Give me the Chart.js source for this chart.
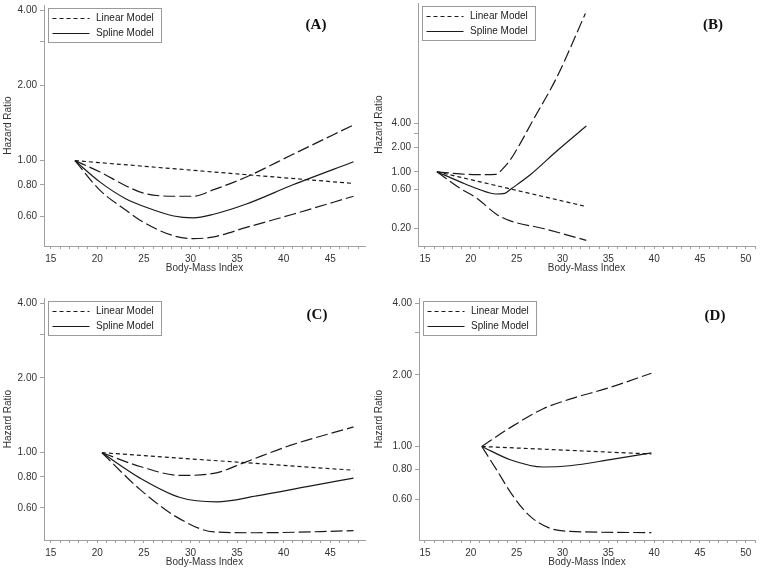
<!DOCTYPE html>
<html>
<head>
<meta charset="utf-8">
<script src="https://cdn.jsdelivr.net/npm/chart.js@4.4.1/dist/chart.umd.min.js"></script>
<style>
  body { margin: 0; background: #fff; }
  #wrap { position: relative; width: 760px; height: 570px; }
  canvas { position: absolute; }
</style>
</head>
<body>
<div id="wrap">
  <canvas id="panelA" width="380" height="285" style="left:0;top:0"></canvas>
  <canvas id="panelB" width="388" height="285" style="left:372px;top:0"></canvas>
  <canvas id="panelC" width="380" height="285" style="left:0;top:285px"></canvas>
  <canvas id="panelD" width="388" height="285" style="left:372px;top:285px"></canvas>
</div>
<script>
// tick labels
const yTicksMain = [0.6, 0.8, 1, 2, 3, 4];
const yLabelsMain = ['0.60', '0.80', '1.00', '2.00', '', '4.00'];
const yTicksB = [0.2, 0.6, 1, 2, 3, 4];
const yLabelsB = ['0.20', '0.60', '1.00', '2.00', '', '4.00'];

// (A)
const bmiA = [17.6, 20.3, 23.15, 25.0, 28.2, 30.3, 32.5, 36.0, 41.0, 47.5];
const splineA = [1.00, 0.82, 0.70, 0.655, 0.60, 0.59, 0.61, 0.67, 0.80, 0.99];
const upperA = [1.00, 0.90, 0.79, 0.74, 0.72, 0.72, 0.765, 0.86, 1.06, 1.39];
const lowerA = [1.00, 0.76, 0.63, 0.565, 0.50, 0.487, 0.495, 0.54, 0.61, 0.72];
const linBmiA = [17.6, 47.5];
const linearA = [1.00, 0.81];

// (B)
const bmiB = [16.3, 18.85, 20.65, 22.75, 23.7, 24.45, 26.45, 29.5, 32.6];
const splineB = [1.00, 0.75, 0.62, 0.53, 0.54, 0.62, 0.91, 1.86, 3.70];
const upBmiB = [16.3, 18.85, 20.65, 22.75, 23.35, 24.3, 25.4, 26.6, 29.4, 32.5];
const upperB = [1.00, 0.94, 0.92, 0.93, 1.05, 1.40, 2.25, 4.00, 15.0, 92.0];
const lowBmiB = [16.3, 18.85, 20.65, 22.75, 24.3, 27.9, 32.6];
const lowerB = [1.00, 0.62, 0.47, 0.30, 0.246, 0.198, 0.141];
const linBmiB = [16.3, 32.6];
const linearB = [1.00, 0.37];

// (C)
const bmiC = [20.5, 24.6, 28.9, 32.8, 37.1, 42.5, 47.5];
const splineC = [1.00, 0.79, 0.66, 0.634, 0.67, 0.73, 0.79];
const upBmiC = [20.5, 24.6, 28.9, 32.8, 35.7, 40.7, 47.5];
const upperC = [1.00, 0.88, 0.81, 0.83, 0.91, 1.07, 1.27];
const lowBmiC = [20.5, 24.6, 28.9, 32.5, 37.1, 47.5];
const lowerC = [1.00, 0.71, 0.54, 0.48, 0.476, 0.485];
const linBmiC = [20.5, 47.5];
const linearC = [1.00, 0.85];

// (D)
const bmiD = [21.2, 24.3, 27.9, 30.8, 35.2, 39.7];
const splineD = [1.00, 0.88, 0.82, 0.83, 0.88, 0.94];
const upperD = [1.00, 1.20, 1.44, 1.58, 1.77, 2.03];
const lowBmiD = [21.2, 22.8, 24.6, 26.45, 28.6, 30.8, 39.7];
const lowerD = [1.00, 0.80, 0.62, 0.51, 0.454, 0.44, 0.435];
const linBmiD = [21.2, 39.7];
const linearD = [1.00, 0.93];

const axisGray = '#a0a0a0';
const textGray = '#333333';
const lineBlack = '#1a1a1a';

Chart.defaults.font.family = '"Liberation Sans", Arial, sans-serif';
Chart.defaults.font.size = 10;
Chart.defaults.color = textGray;

function pts(xs, ys) {
  return xs.map((x, i) => ({ x: x, y: ys[i] }));
}

function lineSet(label, data, dash, inLegend) {
  return {
    label: label,
    data: data,
    borderColor: lineBlack,
    borderWidth: 1.2,
    borderDash: dash,
    pointRadius: 0,
    fill: false,
    cubicInterpolationMode: 'monotone',
    inLegend: inLegend
  };
}

// bordered legend in the top-left corner of the plot
const boxLegend = {
  id: 'boxLegend',
  afterDraw(chart) {
    const { ctx, chartArea } = chart;
    const x = chartArea.left + 3.5;
    const y = chartArea.top + 3;
    ctx.save();
    ctx.strokeStyle = '#9a9a9a';
    ctx.lineWidth = 1;
    ctx.strokeRect(Math.round(x) + 0.5, Math.round(y) + 0.5, 113, 34);
    ctx.font = '10px "Liberation Sans", Arial, sans-serif';
    ctx.textBaseline = 'middle';
    ctx.fillStyle = '#222';
    const items = chart.data.datasets.filter(d => d.inLegend);
    items.forEach((d, i) => {
      const ly = Math.round(y + 10 + i * 15) + 0.5;
      ctx.beginPath();
      ctx.setLineDash(d.borderDash);
      ctx.strokeStyle = d.borderColor;
      ctx.lineWidth = 1.2;
      ctx.moveTo(x + 5, ly);
      ctx.lineTo(x + 42, ly);
      ctx.stroke();
      ctx.setLineDash([]);
      ctx.fillText(d.label, x + 48.5, ly);
    });
    ctx.restore();
  }
};

// panel letter
const panelTag = {
  id: 'panelTag',
  afterDraw(chart, args, opts) {
    const ctx = chart.ctx;
    ctx.save();
    ctx.font = 'bold 15px "Liberation Serif", "Times New Roman", serif';
    ctx.fillStyle = '#111';
    ctx.textAlign = 'center';
    ctx.textBaseline = 'middle';
    ctx.fillText(opts.text, opts.x, opts.y);
    ctx.restore();
  }
};

const panels = [
  { id: 'panelA', tag: '(A)', tagX: 316, tagY: 25,
    xMin: 14.28, xMax: 48.73, yMin: 0.455, yMax: 4.2, yTicks: yTicksMain, yLabels: yLabelsMain,
    axisW: 44, axisH: 39, pad: { left: 0, top: 5, right: 15, bottom: 0 }, xTitlePad: 11, yTitlePad: 2,
    linear: pts(linBmiA, linearA), spline: pts(bmiA, splineA), upper: pts(bmiA, upperA), lower: pts(bmiA, lowerA) },
  { id: 'panelB', tag: '(B)', tagX: 341, tagY: 25,
    xMin: 14.24, xMax: 51, yMin: 0.12, yMax: 124, yTicks: yTicksB, yLabels: yLabelsB,
    axisW: 46, axisH: 39, pad: { left: 0, top: 3, right: 5, bottom: 0 }, xTitlePad: 11, yTitlePad: 1,
    linear: pts(linBmiB, linearB), spline: pts(bmiB, splineB), upper: pts(upBmiB, upperB), lower: pts(lowBmiB, lowerB) },
  { id: 'panelC', tag: '(C)', tagX: 317, tagY: 30,
    xMin: 14.28, xMax: 48.73, yMin: 0.445, yMax: 4.2, yTicks: yTicksMain, yLabels: yLabelsMain,
    axisW: 44, axisH: 30, pad: { left: 0, top: 13, right: 15, bottom: 0 }, xTitlePad: 2, yTitlePad: 2,
    linear: pts(linBmiC, linearC), spline: pts(bmiC, splineC), upper: pts(upBmiC, upperC), lower: pts(lowBmiC, lowerC) },
  { id: 'panelD', tag: '(D)', tagX: 343, tagY: 31,
    xMin: 14.35, xMax: 51, yMin: 0.405, yMax: 4.2, yTicks: yTicksMain, yLabels: yLabelsMain,
    axisW: 47, axisH: 30, pad: { left: 0, top: 13, right: 5, bottom: 0 }, xTitlePad: 2, yTitlePad: 1,
    linear: pts(linBmiD, linearD), spline: pts(bmiD, splineD), upper: pts(bmiD, upperD), lower: pts(lowBmiD, lowerD) }
];

panels.forEach(p => {
  const ctx = document.getElementById(p.id).getContext('2d');
  new Chart(ctx, {
    type: 'line',
    data: {
      datasets: [
        lineSet('Linear Model', p.linear, [4, 3], true),
        lineSet('Spline Model', p.spline, [], true),
        lineSet('Upper limit', p.upper, [12, 4], false),
        lineSet('Lower limit', p.lower, [12, 4], false)
      ]
    },
    options: {
      responsive: false,
      animation: false,
      layout: { padding: p.pad },
      scales: {
        x: {
          type: 'linear',
          min: p.xMin,
          max: p.xMax,
          afterFit: s => {
            s.height = p.axisH;
            s.paddingLeft = 0;
            s.paddingRight = 0;
          },
          ticks: {
            stepSize: 1,
            includeBounds: false,
            autoSkip: false,
            maxRotation: 0,
            padding: 4,
            callback: v => (v % 5 === 0 ? String(v) : '')
          },
          grid: { drawOnChartArea: false, tickLength: 3, color: axisGray },
          border: { color: axisGray },
          title: { display: true, text: 'Body-Mass Index', padding: { top: 0, bottom: p.xTitlePad } }
        },
        y: {
          type: 'logarithmic',
          min: p.yMin,
          max: p.yMax,
          afterFit: s => {
            s.width = p.axisW;
            s.paddingTop = 0;
            s.paddingBottom = 0;
          },
          afterBuildTicks: s => { s.ticks = p.yTicks.map(v => ({ value: v })); },
          ticks: {
            autoSkip: false,
            padding: 3,
            callback: v => p.yLabels[p.yTicks.indexOf(v)]
          },
          grid: { drawOnChartArea: false, tickLength: 4, color: axisGray },
          border: { color: axisGray },
          title: { display: true, text: 'Hazard Ratio', padding: { top: p.yTitlePad, bottom: 0 } }
        }
      },
      plugins: {
        legend: { display: false },
        tooltip: { enabled: false },
        panelTag: { text: p.tag, x: p.tagX, y: p.tagY }
      }
    },
    plugins: [boxLegend, panelTag]
  });
});
</script>
</body>
</html>
